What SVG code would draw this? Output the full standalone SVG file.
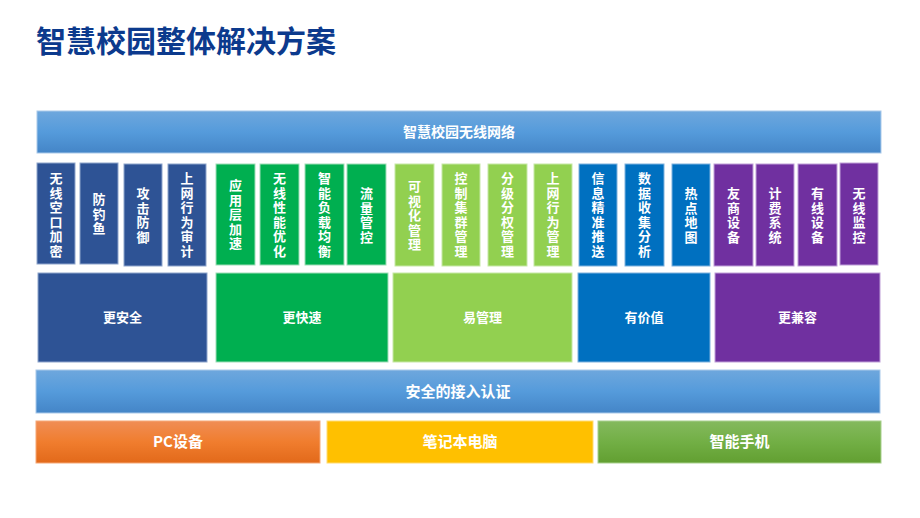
<svg xmlns="http://www.w3.org/2000/svg" width="920" height="518" viewBox="0 0 920 518">
<defs>
<linearGradient id="gBlue" x1="0" y1="0" x2="0" y2="1"><stop offset="0" stop-color="#6EA7DD"/><stop offset="0.5" stop-color="#559BDB"/><stop offset="1" stop-color="#4485C7"/></linearGradient>
<linearGradient id="gOrange" x1="0" y1="0" x2="0" y2="1"><stop offset="0" stop-color="#F08D55"/><stop offset="0.5" stop-color="#F07D2E"/><stop offset="1" stop-color="#E2691A"/></linearGradient>
<linearGradient id="gGreen" x1="0" y1="0" x2="0" y2="1"><stop offset="0" stop-color="#84B95E"/><stop offset="0.5" stop-color="#72AF45"/><stop offset="1" stop-color="#629F31"/></linearGradient>
</defs>
<style>
text{font-family:"Noto Sans CJK SC","Noto Sans",sans-serif;font-weight:bold;fill:#fff}
.title{font-size:30px;fill:#0C3A8D}
.v{font-size:13px;text-anchor:middle}
.c{font-size:13px;text-anchor:middle}
.b{font-size:15px;text-anchor:middle}
.dk{fill:#2E5395;stroke:#8EA5CC;stroke-width:1}
.gr{fill:#00AF50;stroke:#9FDDB8;stroke-width:1}
.lg{fill:#92D050;stroke:#C6E8A6;stroke-width:1}
.bl{fill:#0070C0;stroke:#7FB2DE;stroke-width:1}
.pu{fill:#7030A0;stroke:#BFA0D8;stroke-width:1}
</style>
<rect width="920" height="518" fill="#fff"/>
<text class="title" x="36" y="52">智慧校园整体解决方案</text>

<g id="network">
<rect x="37" y="111" width="844" height="42" fill="url(#gBlue)" stroke="#A9C9EA" stroke-width="1"/>
<text class="c" x="459" y="137" style="font-size:14px">智慧校园无线网络</text>
</g>

<g id="f1"><rect class="dk" x="37" y="163" width="38" height="101"/><text class="v" x="56" y="183"><tspan x="56">无</tspan><tspan x="56" dy="14.5">线</tspan><tspan x="56" dy="14.5">空</tspan><tspan x="56" dy="14.5">口</tspan><tspan x="56" dy="14.5">加</tspan><tspan x="56" dy="14.5">密</tspan></text></g>
<g id="f2"><rect class="dk" x="80" y="163" width="38" height="101"/><text class="v" x="99" y="204"><tspan x="99">防</tspan><tspan x="99" dy="14.5">钓</tspan><tspan x="99" dy="14.5">鱼</tspan></text></g>
<g id="f3"><rect class="dk" x="124" y="164" width="38" height="102"/><text class="v" x="143" y="198"><tspan x="143">攻</tspan><tspan x="143" dy="14.5">击</tspan><tspan x="143" dy="14.5">防</tspan><tspan x="143" dy="14.5">御</tspan></text></g>
<g id="f4"><rect class="dk" x="168" y="164" width="38" height="102"/><text class="v" x="187" y="183"><tspan x="187">上</tspan><tspan x="187" dy="14.5">网</tspan><tspan x="187" dy="14.5">行</tspan><tspan x="187" dy="14.5">为</tspan><tspan x="187" dy="14.5">审</tspan><tspan x="187" dy="14.5">计</tspan></text></g>

<g id="f5"><rect class="gr" x="216" y="164" width="39" height="101"/><text class="v" x="235.5" y="190"><tspan x="235.5">应</tspan><tspan x="235.5" dy="14.5">用</tspan><tspan x="235.5" dy="14.5">层</tspan><tspan x="235.5" dy="14.5">加</tspan><tspan x="235.5" dy="14.5">速</tspan></text></g>
<g id="f6"><rect class="gr" x="260" y="164" width="39" height="101"/><text class="v" x="279.5" y="183"><tspan x="279.5">无</tspan><tspan x="279.5" dy="14.5">线</tspan><tspan x="279.5" dy="14.5">性</tspan><tspan x="279.5" dy="14.5">能</tspan><tspan x="279.5" dy="14.5">优</tspan><tspan x="279.5" dy="14.5">化</tspan></text></g>
<g id="f7"><rect class="gr" x="305" y="164" width="39" height="101"/><text class="v" x="324.5" y="183"><tspan x="324.5">智</tspan><tspan x="324.5" dy="14.5">能</tspan><tspan x="324.5" dy="14.5">负</tspan><tspan x="324.5" dy="14.5">载</tspan><tspan x="324.5" dy="14.5">均</tspan><tspan x="324.5" dy="14.5">衡</tspan></text></g>
<g id="f8"><rect class="gr" x="347" y="164" width="39" height="101"/><text class="v" x="366.5" y="198"><tspan x="366.5">流</tspan><tspan x="366.5" dy="14.5">量</tspan><tspan x="366.5" dy="14.5">管</tspan><tspan x="366.5" dy="14.5">控</tspan></text></g>

<g id="f9"><rect class="lg" x="395" y="164" width="39" height="102"/><text class="v" x="414.5" y="191"><tspan x="414.5">可</tspan><tspan x="414.5" dy="14.5">视</tspan><tspan x="414.5" dy="14.5">化</tspan><tspan x="414.5" dy="14.5">管</tspan><tspan x="414.5" dy="14.5">理</tspan></text></g>
<g id="f10"><rect class="lg" x="442" y="164" width="38" height="102"/><text class="v" x="461" y="183"><tspan x="461">控</tspan><tspan x="461" dy="14.5">制</tspan><tspan x="461" dy="14.5">集</tspan><tspan x="461" dy="14.5">群</tspan><tspan x="461" dy="14.5">管</tspan><tspan x="461" dy="14.5">理</tspan></text></g>
<g id="f11"><rect class="lg" x="488" y="164" width="39" height="102"/><text class="v" x="507.5" y="183"><tspan x="507.5">分</tspan><tspan x="507.5" dy="14.5">级</tspan><tspan x="507.5" dy="14.5">分</tspan><tspan x="507.5" dy="14.5">权</tspan><tspan x="507.5" dy="14.5">管</tspan><tspan x="507.5" dy="14.5">理</tspan></text></g>
<g id="f12"><rect class="lg" x="534" y="164" width="38" height="102"/><text class="v" x="553" y="183"><tspan x="553">上</tspan><tspan x="553" dy="14.5">网</tspan><tspan x="553" dy="14.5">行</tspan><tspan x="553" dy="14.5">为</tspan><tspan x="553" dy="14.5">管</tspan><tspan x="553" dy="14.5">理</tspan></text></g>

<g id="f13"><rect class="bl" x="579" y="164" width="38" height="102"/><text class="v" x="598" y="183"><tspan x="598">信</tspan><tspan x="598" dy="14.5">息</tspan><tspan x="598" dy="14.5">精</tspan><tspan x="598" dy="14.5">准</tspan><tspan x="598" dy="14.5">推</tspan><tspan x="598" dy="14.5">送</tspan></text></g>
<g id="f14"><rect class="bl" x="625" y="164" width="39" height="102"/><text class="v" x="644.5" y="183"><tspan x="644.5">数</tspan><tspan x="644.5" dy="14.5">据</tspan><tspan x="644.5" dy="14.5">收</tspan><tspan x="644.5" dy="14.5">集</tspan><tspan x="644.5" dy="14.5">分</tspan><tspan x="644.5" dy="14.5">析</tspan></text></g>
<g id="f15"><rect class="bl" x="672" y="164" width="38" height="102"/><text class="v" x="691" y="198"><tspan x="691">热</tspan><tspan x="691" dy="14.5">点</tspan><tspan x="691" dy="14.5">地</tspan><tspan x="691" dy="14.5">图</tspan></text></g>

<g id="f16"><rect class="pu" x="714" y="164" width="39" height="102"/><text class="v" x="733.5" y="198"><tspan x="733.5">友</tspan><tspan x="733.5" dy="14.5">商</tspan><tspan x="733.5" dy="14.5">设</tspan><tspan x="733.5" dy="14.5">备</tspan></text></g>
<g id="f17"><rect class="pu" x="756" y="164" width="38" height="102"/><text class="v" x="775" y="198"><tspan x="775">计</tspan><tspan x="775" dy="14.5">费</tspan><tspan x="775" dy="14.5">系</tspan><tspan x="775" dy="14.5">统</tspan></text></g>
<g id="f18"><rect class="pu" x="798" y="164" width="39" height="102"/><text class="v" x="817.5" y="198"><tspan x="817.5">有</tspan><tspan x="817.5" dy="14.5">线</tspan><tspan x="817.5" dy="14.5">设</tspan><tspan x="817.5" dy="14.5">备</tspan></text></g>
<g id="f19"><rect class="pu" x="840" y="163" width="38" height="102"/><text class="v" x="859" y="198"><tspan x="859">无</tspan><tspan x="859" dy="14.5">线</tspan><tspan x="859" dy="14.5">监</tspan><tspan x="859" dy="14.5">控</tspan></text></g>

<g id="c1"><rect class="dk" x="38" y="273" width="169" height="89"/><text class="c" x="122.5" y="322">更安全</text></g>
<g id="c2"><rect class="gr" x="216" y="273" width="172" height="89"/><text class="c" x="302" y="322">更快速</text></g>
<g id="c3"><rect class="lg" x="393" y="273" width="179" height="89"/><text class="c" x="482.5" y="322">易管理</text></g>
<g id="c4"><rect class="bl" x="578" y="273" width="132" height="89"/><text class="c" x="644" y="322">有价值</text></g>
<g id="c5"><rect class="pu" x="715" y="273" width="165" height="89"/><text class="c" x="797.5" y="322">更兼容</text></g>

<g id="auth">
<rect x="36" y="370" width="844" height="43" fill="url(#gBlue)" stroke="#A9C9EA" stroke-width="1"/>
<text class="b" x="458" y="397">安全的接入认证</text>
</g>

<g id="pc"><rect x="36" y="421" width="284" height="42" fill="url(#gOrange)" stroke="#F5A877" stroke-width="1"/><text class="b" x="178" y="447">PC设备</text></g>
<g id="laptop"><rect x="327" y="421" width="266" height="42" fill="#FFC000" stroke="#FFDB73" stroke-width="1"/><text class="b" x="460" y="447">笔记本电脑</text></g>
<g id="phone"><rect x="598" y="421" width="283" height="42" fill="url(#gGreen)" stroke="#A8D08D" stroke-width="1"/><text class="b" x="739.5" y="447">智能手机</text></g>

<g id="connectors"></g>
</svg>
